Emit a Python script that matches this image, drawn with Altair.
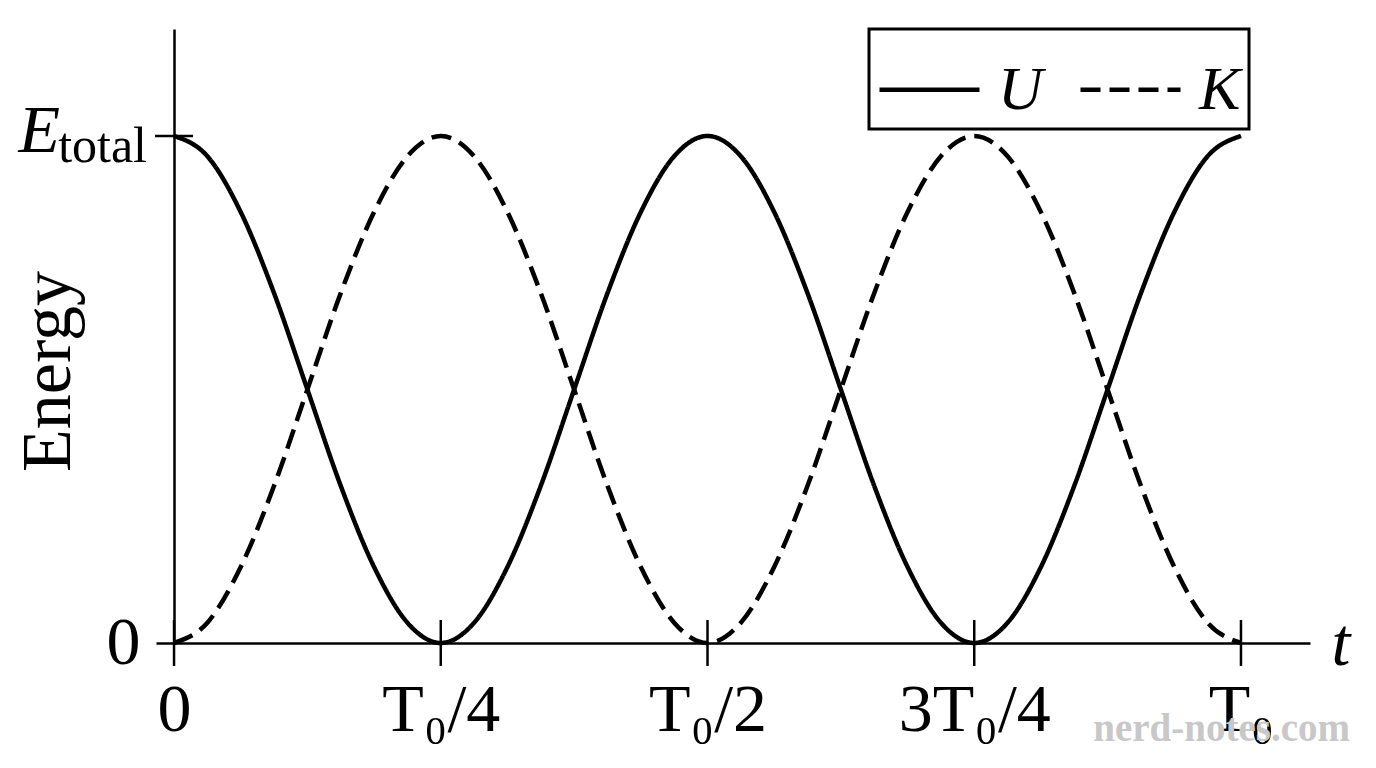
import altair as alt
import pandas as pd

# time in units of T0
t_frac = [0.0, 0.03125, 0.0625, 0.09375, 0.125, 0.15625, 0.1875, 0.21875,
          0.25, 0.28125, 0.3125, 0.34375, 0.375, 0.40625, 0.4375, 0.46875,
          0.5, 0.53125, 0.5625, 0.59375, 0.625, 0.65625, 0.6875, 0.71875,
          0.75, 0.78125, 0.8125, 0.84375, 0.875, 0.90625, 0.9375, 0.96875, 1.0]
# potential energy U (fraction of E_total)
U_vals = [1.00, 0.96, 0.85, 0.69, 0.50, 0.31, 0.15, 0.04,
          0.00, 0.04, 0.15, 0.31, 0.50, 0.69, 0.85, 0.96,
          1.00, 0.96, 0.85, 0.69, 0.50, 0.31, 0.15, 0.04,
          0.00, 0.04, 0.15, 0.31, 0.50, 0.69, 0.85, 0.96, 1.00]
# kinetic energy K (fraction of E_total)
K_vals = [0.00, 0.04, 0.15, 0.31, 0.50, 0.69, 0.85, 0.96,
          1.00, 0.96, 0.85, 0.69, 0.50, 0.31, 0.15, 0.04,
          0.00, 0.04, 0.15, 0.31, 0.50, 0.69, 0.85, 0.96,
          1.00, 0.96, 0.85, 0.69, 0.50, 0.31, 0.15, 0.04, 0.00]

series_names = ["U", "K"]
x_tick_values = [0.0, 0.25, 0.5, 0.75, 1.0]
x_tick_labels = ["0", "T₀/4", "T₀/2", "3T₀/4", "T₀"]
y_tick_values = [0, 1]

rows = []
for t, u, k in zip(t_frac, U_vals, K_vals):
    rows.append({"t": t, "energy": u, "series": "U"})
    rows.append({"t": t, "energy": k, "series": "K"})
df = pd.DataFrame(rows)
ticks_df = pd.DataFrame({"t": x_tick_values, "energy": [0] * len(x_tick_values)})
ytick_df = pd.DataFrame({"t": [0], "energy": [1]})
zero_df = pd.DataFrame({"t": [0], "energy": [0]})

FONT = "Liberation Serif"
FS = 68

label_expr = ""
for v, lab in zip(x_tick_values, x_tick_labels):
    label_expr += f"datum.value == {v} ? '{lab}' : "
label_expr += "''"

xscale = alt.Scale(domain=[-0.0169, 1.0647], nice=False, zero=False)
yscale = alt.Scale(domain=[0, 1.211], nice=False, zero=False)

x_axis = alt.Axis(values=x_tick_values, labelExpr=label_expr, title=None, grid=False,
                  ticks=False, tickSize=0, domainColor="black", domainWidth=2.5,
                  labelFont=FONT, labelFontSize=FS, labelColor="black",
                  labelPadding=33, labelBaseline="top")
y_axis = alt.Axis(values=y_tick_values, labelExpr="datum.value == 0 ? '0' : ''",
                  offset=-18, grid=False, ticks=False, tickSize=0,
                  domainColor="black", domainWidth=2.5,
                  labelFont=FONT, labelFontSize=FS, labelColor="black",
                  labelPadding=34,
                  title="Energy", titleFont=FONT, titleFontSize=70,
                  titleFontWeight="normal", titleColor="black", titleAngle=270,
                  titleX=-105, titleY=342, titleBaseline="alphabetic",
                  titleAlign="center")

X = lambda: alt.X("t:Q", scale=xscale, axis=x_axis)
Y = lambda: alt.Y("energy:Q", scale=yscale, axis=y_axis)

lines = alt.Chart(df).mark_line(strokeWidth=4.5, color="black", interpolate="monotone").encode(
    x=X(), y=Y(),
    strokeDash=alt.StrokeDash(
        "series:N",
        scale=alt.Scale(domain=series_names, range=[[1, 0], [20, 9]]),
        sort=series_names,
        legend=alt.Legend(title=None, orient="none", legendX=713, legendY=0,
                          direction="horizontal", symbolType="stroke", symbolSize=10000,
                          symbolStrokeWidth=4.5, symbolStrokeColor="black",
                          labelFont=FONT, labelFontStyle="italic", labelFontSize=62,
                          labelColor="black", labelOffset=16, columnPadding=28,
                          padding=8, strokeColor="black"),
    ),
)

xticks = alt.Chart(ticks_df).mark_tick(orient="vertical", size=46, thickness=2.5,
                                       color="black", opacity=1).encode(x=X(), y=Y())

yticks = alt.Chart(ytick_df).mark_tick(orient="horizontal", size=38, thickness=2.5,
                                       color="black", opacity=1).encode(x=X(), y=Y())

e_text = alt.Chart(ytick_df).mark_text(text="E", font=FONT, fontStyle="italic", fontSize=FS,
                                       align="right", baseline="alphabetic", dy=16,
                                       color="black").encode(x=alt.value(-96), y=Y())

total_text = alt.Chart(ytick_df).mark_text(text="total", font=FONT, fontSize=50,
                                           align="right", baseline="alphabetic", dy=26,
                                           color="black").encode(x=alt.value(-9), y=Y())

t_text = alt.Chart(zero_df).mark_text(text="t", font=FONT, fontStyle="italic",
                                      fontSize=FS, align="center",
                                      baseline="alphabetic", dy=22,
                                      color="black").encode(x=alt.value(1185), y=Y())

watermark = alt.Chart(zero_df).mark_text(text="nerd-notes.com", font=FONT,
                                         fontWeight="bold", fontSize=39,
                                         color="#c8c8c8", align="right",
                                         baseline="alphabetic").encode(
    x=alt.value(1194), y=alt.value(712))

chart = alt.layer(lines, xticks, yticks, e_text, total_text, t_text, watermark).properties(
    width=1154, height=614,
    padding={"left": 148, "top": 21, "right": 50, "bottom": 116},
    autosize=alt.AutoSizeParams(type="none"),
    background="white",
).configure_view(stroke=None).configure_legend(strokeWidth=3)

chart.save("out.html", embed_options={"renderer": "svg", "actions": False})
